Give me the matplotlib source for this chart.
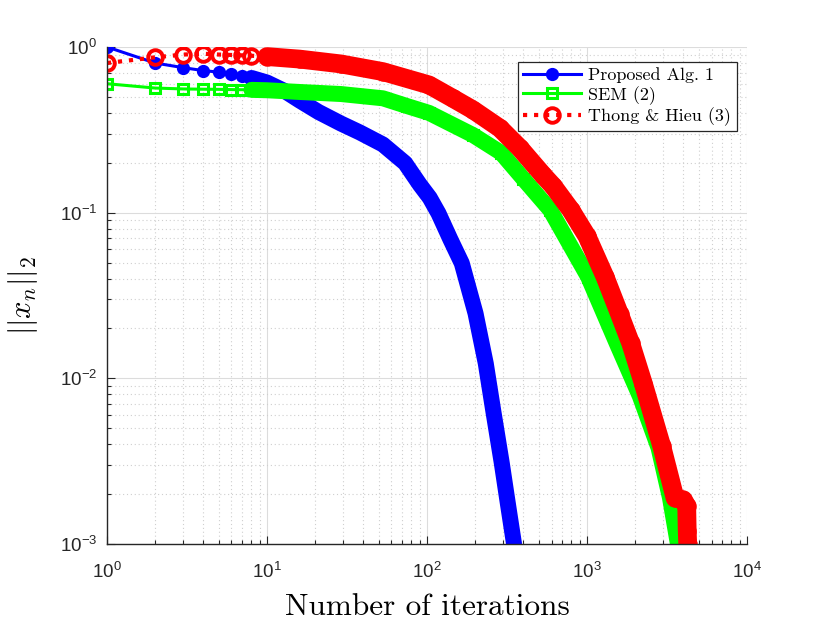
import numpy as np
import matplotlib
matplotlib.use("Agg")
import matplotlib.pyplot as plt
from matplotlib.ticker import LogLocator, NullFormatter

plt.rcParams['font.family'] = ['Liberation Sans', 'DejaVu Sans']
plt.rcParams['mathtext.fontset'] = 'cm'

# values
n_alg1 = [1, 2, 3, 4, 5, 6, 7, 8, 10, 13, 16, 21, 29, 38, 53, 73, 90, 104, 118, 140, 165, 201,
          233, 260, 293, 320, 350]
y_alg1 = [1.0, 0.80, 0.75, 0.72, 0.705, 0.685, 0.665, 0.65, 0.61, 0.54, 0.475, 0.405, 0.345, 0.305,
          0.258, 0.199, 0.148, 0.123, 0.099, 0.069, 0.0495, 0.0247, 0.0123, 0.0063, 0.0031, 0.00176, 0.001]

n_sem = [1, 2, 3, 4, 5, 6, 7, 8, 10, 16, 29, 53, 75, 103, 194, 290, 400, 588, 1016, 1532, 2140, 2800,
         3300, 3700]
y_sem = [0.60, 0.565, 0.558, 0.556, 0.555, 0.553, 0.552, 0.551, 0.548, 0.535, 0.52, 0.49, 0.44, 0.40,
         0.294, 0.23, 0.16, 0.104, 0.041, 0.0163, 0.0078, 0.0038, 0.0019, 0.001]

n_th = [1, 2, 3, 4, 5, 6, 7, 8, 10, 16, 29, 53, 103, 145, 194, 286, 381, 533, 617, 791, 1000, 1296,
        1600, 1875, 2250, 2930, 3548, 4000, 4200, 4230, 4260]
y_th = [0.80, 0.866, 0.90, 0.91, 0.90, 0.895, 0.89, 0.885, 0.875, 0.845, 0.79, 0.71, 0.59, 0.49, 0.417,
        0.323, 0.245, 0.168, 0.144, 0.104, 0.072, 0.041, 0.0243, 0.0163, 0.0093, 0.0039, 0.0019,
        0.00185, 0.0017, 0.0012, 0.001]

labels = ['Proposed Alg. 1', 'SEM (2)', 'Thong & Hieu (3)']

fig = plt.figure(figsize=(8.3, 6.23), dpi=100)
ax = fig.add_axes([0.1289, 0.1268, 0.7711, 0.7978])

def band(n, y, start, color, width):
    n = np.array(n); y = np.array(y)
    m = n >= start
    ax.plot(n[m], y[m], '-', color=color, lw=width, solid_capstyle='round',
            solid_joinstyle='round', label='_nolegend_')

blue = (0, 0, 1)
green = (0, 1, 0)
red = (1, 0, 0)

band(n_alg1, y_alg1, 8, blue, 11.5)
ax.plot(n_alg1, y_alg1, '-o', color=blue, lw=2.2, ms=8, mfc=blue, mew=1.5, label=labels[0])

band(n_sem, y_sem, 8, green, 11.5)
ax.plot(n_sem, y_sem, '-s', color=green, lw=2.2, ms=7.5, mfc='none', mew=2.2, label=labels[1])

band(n_th, y_th, 10, red, 13.5)
ax.plot(n_th, y_th, ':o', color=red, lw=3, ms=10.5, mfc='none', mew=2.8, label=labels[2])

ax.set_xscale('log')
ax.set_yscale('log')
ax.set_xlim(1, 1e4)
ax.set_ylim(1e-3, 1)

ax.xaxis.set_major_locator(LogLocator(base=10, numticks=10))
ax.yaxis.set_major_locator(LogLocator(base=10, numticks=10))
ax.xaxis.set_minor_locator(LogLocator(base=10, subs=np.arange(2, 10), numticks=20))
ax.yaxis.set_minor_locator(LogLocator(base=10, subs=np.arange(2, 10), numticks=20))
ax.xaxis.set_minor_formatter(NullFormatter())
ax.yaxis.set_minor_formatter(NullFormatter())

ax.grid(True, which='major', color='#dcdcdc', lw=0.8, ls='-')
ax.grid(True, which='minor', color='#cfcfcf', lw=0.8, ls=(0, (1, 2.5)))
ax.set_axisbelow(True)

ax.spines['top'].set_visible(False)
ax.spines['right'].set_visible(False)
for s in ['left', 'bottom']:
    ax.spines[s].set_linewidth(1.0)
    ax.spines[s].set_color('#262626')
ax.tick_params(which='both', direction='in', top=False, right=False, colors='#262626', labelsize=13.5)
ax.tick_params(which='major', length=6, width=0.8)
ax.tick_params(axis='x', which='major', pad=13)
ax.tick_params(axis='y', which='major', pad=7)
ax.tick_params(which='minor', length=3, width=0.8)

ax.set_xlabel('Number of iterations', family='cmr10', fontsize=22.5, labelpad=8)
ax.set_ylabel(r'$||x_n||_2$', fontsize=22, labelpad=14)

leg = ax.legend(loc='upper right', bbox_to_anchor=(0.984, 0.970), borderaxespad=0,
                fancybox=False, framealpha=1, edgecolor='#262626', handlelength=3.2,
                prop={'family': 'cmr10', 'size': 13}, borderpad=0.3, labelspacing=0.15,
                handletextpad=0.4)
leg.get_frame().set_linewidth(0.9)

fig.savefig('out.png', dpi=100)
